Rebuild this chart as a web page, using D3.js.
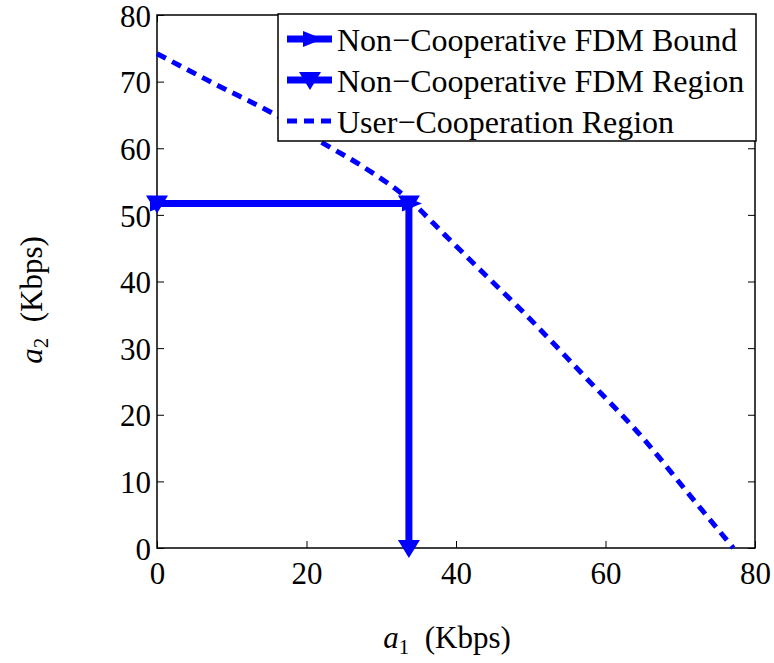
<!DOCTYPE html>
<html>
<head>
<meta charset="utf-8">
<script src="https://cdn.jsdelivr.net/npm/d3@7"></script>
<style>
  body { margin: 0; background: #fff; }
  svg { display: block; }
  text { font-family: "Liberation Serif", "Times New Roman", serif; fill: #000; }
</style>
</head>
<body>
<div id="chart"></div>
<script>
// data
var xTicks = [0, 20, 40, 60, 80];
var yTicks = [0, 10, 20, 30, 40, 50, 60, 70, 80];

var boundPoints = [[0, 51.7], [33.7, 51.7]];
var regionPoints = [[0, 51.7], [33.7, 51.7], [33.7, 0]];
var coopX = [0, 8, 15.4, 22, 27.6, 33.8, 38.5, 44, 49, 57, 65, 71, 77.1];
var coopY = [74.2, 69.5, 65.3, 60.9, 57.2, 52.2, 47.0, 40.9, 35.4, 26.0, 16.5, 8.3, 0];

var legendNames = ["Non\u2212Cooperative FDM Bound", "Non\u2212Cooperative FDM Region", "User\u2212Cooperation Region"];

var width = 774, height = 663;
var margin = {top: 15, right: 19, bottom: 115, left: 157};
var plotW = width - margin.left - margin.right,
    plotH = height - margin.top - margin.bottom;
var blue = "#0000ff";

var svg = d3.select("#chart").append("svg")
    .attr("width", width)
    .attr("height", height);

var chart = svg.append("g")
    .attr("transform", "translate(" + margin.left + "," + margin.top + ")");

var x = d3.scaleLinear().domain([0, 80]).range([0, plotW]);
var y = d3.scaleLinear().domain([0, 80]).range([plotH, 0]);

// axes: ticks point inward, mirrored on top/right
var tickLen = 7;
var xAxis = d3.axisBottom(x).tickValues(xTicks).tickSize(-tickLen).tickPadding(14).tickSizeOuter(0);
var yAxis = d3.axisLeft(y).tickValues(yTicks).tickSize(-tickLen).tickPadding(6).tickSizeOuter(0);

var gx = chart.append("g").attr("transform", "translate(0," + plotH + ")").call(xAxis);
var gy = chart.append("g").call(yAxis);
chart.append("g").call(d3.axisTop(x).tickValues(xTicks).tickSize(-tickLen).tickFormat("").tickSizeOuter(0));
chart.append("g").attr("transform", "translate(" + plotW + ",0)")
    .call(d3.axisRight(y).tickValues(yTicks).tickSize(-tickLen).tickFormat("").tickSizeOuter(0));

chart.selectAll(".domain").remove();
chart.selectAll(".tick line").attr("stroke", "#000").attr("stroke-width", 1);
gx.selectAll("text").style("font-size", "31px").attr("dy", "0.71em");
gy.selectAll("text").style("font-size", "31px").attr("dy", "0.36em");

chart.append("rect")
    .attr("width", plotW).attr("height", plotH)
    .attr("fill", "none").attr("stroke", "#000").attr("stroke-width", 1.5);

var line = d3.line()
    .x(function(d) { return x(d[0]); })
    .y(function(d) { return y(d[1]); });

var coopPoints = coopX.map(function(v, i) { return [v, coopY[i]]; });

// user cooperation (dashed)
chart.append("path")
    .datum(coopPoints)
    .attr("d", line.curve(d3.curveMonotoneX))
    .attr("fill", "none")
    .attr("stroke", blue)
    .attr("stroke-width", 5)
    .attr("stroke-dasharray", "10,7");
line.curve(d3.curveLinear);

// triangle markers
function triRight(cx, cy) {
  return "M" + (cx - 7) + "," + (cy - 8) + "L" + (cx + 13) + "," + cy + "L" + (cx - 7) + "," + (cy + 8) + "Z";
}
function triDown(cx, cy) {
  return "M" + (cx - 11) + "," + (cy - 8) + "L" + (cx + 11) + "," + (cy - 8) + "L" + cx + "," + (cy + 10) + "Z";
}

chart.append("path")
    .datum(regionPoints)
    .attr("d", line)
    .attr("fill", "none")
    .attr("stroke", blue)
    .attr("stroke-width", 7);
chart.selectAll("path.mdown")
    .data(regionPoints)
    .enter().append("path")
    .attr("class", "mdown")
    .attr("d", function(d) { return triDown(x(d[0]), y(d[1])); })
    .attr("fill", blue);

chart.append("path")
    .datum(boundPoints)
    .attr("d", line)
    .attr("fill", "none")
    .attr("stroke", blue)
    .attr("stroke-width", 7);
chart.selectAll("path.mright")
    .data(boundPoints)
    .enter().append("path")
    .attr("class", "mright")
    .attr("d", function(d) { return triRight(x(d[0]), y(d[1])); })
    .attr("fill", blue);

// legend
var legend = svg.append("g").attr("transform", "translate(278,14)");
legend.append("rect")
    .attr("width", 478).attr("height", 127)
    .attr("fill", "#fff").attr("stroke", "#000").attr("stroke-width", 1.5);

legendNames.forEach(function(name, i) {
  var cy = 25 + i * 41;
  var row = legend.append("g");
  row.append("line")
      .attr("x1", 9).attr("x2", 54).attr("y1", cy).attr("y2", cy)
      .attr("stroke", blue)
      .attr("stroke-width", i < 2 ? 7 : 5)
      .attr("stroke-dasharray", i < 2 ? null : "10,7");
  if (i == 0) row.append("path").attr("d", triRight(32, cy)).attr("fill", blue);
  if (i == 1) row.append("path").attr("d", triDown(32, cy)).attr("fill", blue);
  row.append("text")
      .attr("x", 59).attr("y", cy)
      .attr("dy", "0.36em")
      .style("font-size", "32px")
      .text(name);
});

// axis labels
var xl = svg.append("text")
    .attr("x", 447).attr("y", 648)
    .attr("text-anchor", "middle")
    .style("font-size", "31px");
xl.append("tspan").style("font-style", "italic").text("a");
xl.append("tspan").attr("dy", 6).style("font-size", "21px").text("1");
xl.append("tspan").attr("dy", -6).text("\u2002(Kbps)");

var yl = svg.append("text")
    .attr("transform", "translate(42,300) rotate(-90)")
    .attr("text-anchor", "middle")
    .style("font-size", "31px");
yl.append("tspan").style("font-style", "italic").text("a");
yl.append("tspan").attr("dy", 6).style("font-size", "21px").text("2");
yl.append("tspan").attr("dy", -6).text("\u2002(Kbps)");
</script>
</body>
</html>
